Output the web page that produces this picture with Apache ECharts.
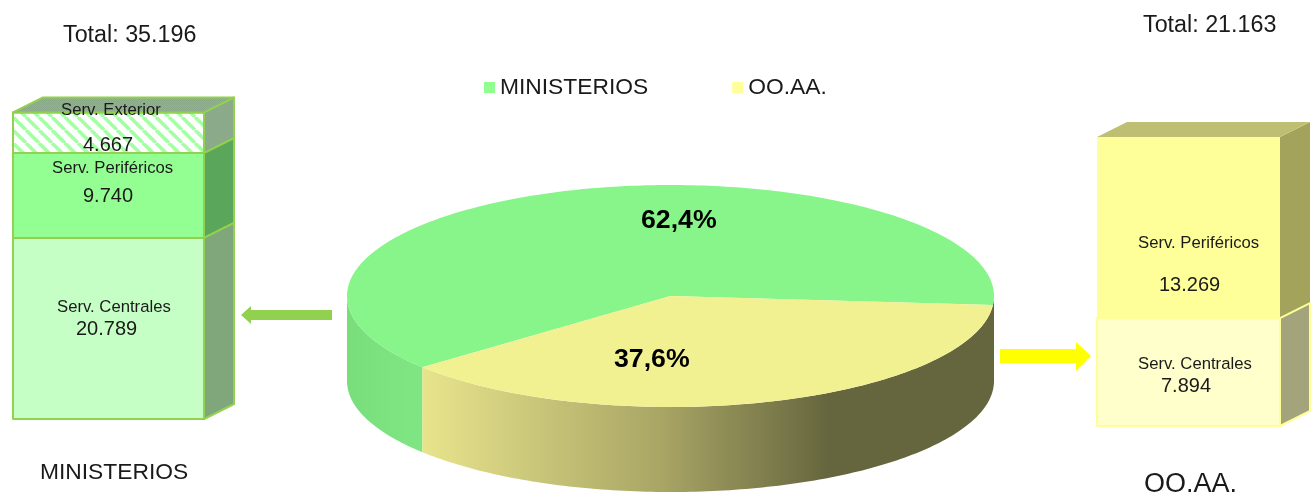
<!DOCTYPE html>
<html>
<head>
<meta charset="utf-8">
<style>
  html, body { margin: 0; padding: 0; background: #fff; }
  #main { width: 1316px; height: 494px; }
</style>
<script src="https://cdn.jsdelivr.net/npm/echarts@6/dist/echarts.min.js"></script>
</head>
<body>
<div id="main"></div>
<script>
// data
const groupNames = ['MINISTERIOS', 'OO.AA.'];
const ministeriosCategories = ['Serv. Centrales', 'Serv. Periféricos', 'Serv. Exterior'];
const ministeriosValues = [20789, 9740, 4667];
const ooaaCategories = ['Serv. Centrales', 'Serv. Periféricos'];
const ooaaValues = [7894, 13269];
const pieValues = [62.4, 37.6];

const sum = arr => arr.reduce((a, b) => a + b, 0);
const thousands = v => String(v).replace(/\B(?=(\d{3})+$)/g, '.');
const percent = v => v.toFixed(1).replace('.', ',') + '%';

const FONT = '"Liberation Sans", Arial, sans-serif';
const TEXT = '#1a1a1a';
const DEPTH_X = 30, DEPTH_Y = 15, PIE_DEPTH = 85;

// small repeating tiles for the hatched exterior block
function tile(size, draw) {
  const c = document.createElement('canvas');
  c.width = c.height = size;
  draw(c.getContext('2d'), size);
  return { image: c, repeat: 'repeat' };
}
const hatch = tile(13, (g, s) => {
  g.fillStyle = '#ffffff';
  g.fillRect(0, 0, s, s);
  g.strokeStyle = '#a2ffa2';
  g.lineWidth = 3.5;
  [-s, 0, s].forEach(o => {
    g.beginPath();
    g.moveTo(o, 0);
    g.lineTo(o + s, s);
    g.stroke();
  });
});
const stipple = (a, b) => tile(2, (g, s) => {
  g.fillStyle = a;
  g.fillRect(0, 0, s, s);
  g.fillStyle = b;
  g.fillRect(0, 0, 1, 1);
  g.fillRect(1, 1, 1, 1);
});

const leftStyles = [
  { front: '#c6ffc6', side: '#80a67c', stroke: '#92d050' },
  { front: '#93ff93', side: '#5aa65a', stroke: '#92d050' },
  { front: hatch, side: stipple('#a0a0a0', '#88a888'), top: stipple('#a5a5a5', '#88a888'), stroke: '#92d050' }
];
const rightStyles = [
  { front: '#ffffcc', side: '#a3a37c', stroke: '#ffff99' },
  { front: '#ffff99', side: '#a3a35c', top: '#bfbf73', stroke: null }
];

// one stacked block: front face, side face, and a top face on the last one
function blockItem(styles, values) {
  return function (params, api) {
    const i = api.value(0);
    const base = sum(values.slice(0, i));
    const lo = api.coord([0, base]);
    const hi = api.coord([0, base + values[i]]);
    const w = api.size([1, 0])[0];
    const x0 = lo[0] - w / 2, x1 = lo[0] + w / 2;
    const st = styles[i];
    const face = (points, fill) => ({
      type: 'polygon',
      z2: values.length - i,
      shape: { points: points },
      style: { fill: fill, stroke: st.stroke, lineWidth: st.stroke ? 2 : 0, lineJoin: 'round' }
    });
    const children = [
      face([[x1, lo[1]], [x1 + DEPTH_X, lo[1] - DEPTH_Y], [x1 + DEPTH_X, hi[1] - DEPTH_Y], [x1, hi[1]]], st.side),
      face([[x0, lo[1]], [x1, lo[1]], [x1, hi[1]], [x0, hi[1]]], st.front)
    ];
    if (i === values.length - 1) {
      children.push(face([[x0, hi[1]], [x1, hi[1]], [x1 + DEPTH_X, hi[1] - DEPTH_Y], [x0 + DEPTH_X, hi[1] - DEPTH_Y]], st.top));
    }
    return { type: 'group', children: children };
  };
}

// the yellow slice starts just below the right edge, angles go clockwise on screen
const PIE_START = 4.7;

function arc(api, from, to) {
  const pts = [];
  const steps = Math.max(2, Math.ceil(Math.abs(to - from)));
  for (let k = 0; k <= steps; k++) {
    const a = (from + (to - from) * k / steps) * Math.PI / 180;
    pts.push(api.coord([Math.cos(a), Math.sin(a)]));
  }
  return pts;
}

function wall(api, from, to, fill) {
  const topEdge = arc(api, from, to);
  const lowEdge = topEdge.map(p => [p[0], p[1] + PIE_DEPTH]).reverse();
  return { type: 'polygon', z2: 1, shape: { points: topEdge.concat(lowEdge) }, style: { fill: fill } };
}

function sliceItem(index) {
  return function (params, api) {
    const from = index === 0 ? PIE_START + pieValues[1] * 3.6 : PIE_START;
    const to = from + api.value(0) * 3.6;
    const center = api.coord([0, 0]);
    const children = [];
    if (index === 0) {
      children.push(wall(api, from, 180, {
        type: 'linear', x: 0, y: 0, x2: 1, y2: 0,
        colorStops: [{ offset: 0, color: '#79dd7c' }, { offset: 1, color: '#80e683' }]
      }));
    } else {
      children.push(wall(api, 0, to, {
        type: 'linear', x: 1, y: 0, x2: 0, y2: 0,
        colorStops: [
          { offset: 0, color: '#66663e' },
          { offset: 0.29, color: '#66663e' },
          { offset: 0.58, color: '#a8a565' },
          { offset: 1, color: '#e8e48c' }
        ]
      }));
    }
    children.push({
      type: 'polygon',
      z2: 2,
      shape: { points: [center].concat(arc(api, from, to)) },
      style: { fill: index === 0 ? '#88f58a' : '#f2f192' }
    });
    return { type: 'group', children: children };
  };
}

function label(text, left, midY, size, weight) {
  return {
    text: text,
    left: left,
    top: midY - size / 2 + 1,
    padding: 0,
    textStyle: {
      fontFamily: FONT,
      fontSize: size,
      fontWeight: weight || 'normal',
      color: weight ? '#000' : TEXT,
      lineHeight: size
    }
  };
}

const titleList = [
  label('Total: ' + thousands(sum(ministeriosValues)), 63, 35, 23.3),
  label('Total: ' + thousands(sum(ooaaValues)), 1143, 25, 23.3),
  label(groupNames[0], 40, 472, 22.8),
  label(groupNames[1], 1144, 484, 27),
  label(ministeriosCategories[2], 61, 109, 16.7),
  label(thousands(ministeriosValues[2]), 83, 144, 20),
  label(ministeriosCategories[1], 52, 167, 16.7),
  label(thousands(ministeriosValues[1]), 83, 195, 20),
  label(ministeriosCategories[0], 57, 306, 16.7),
  label(thousands(ministeriosValues[0]), 76, 328, 20),
  label(ooaaCategories[1], 1138, 242, 16.7),
  label(thousands(ooaaValues[1]), 1159, 284, 20),
  label(ooaaCategories[0], 1138, 363, 16.7),
  label(thousands(ooaaValues[0]), 1161, 385, 20),
  label(percent(pieValues[0]), 641, 220, 26.7, 'bold'),
  label(percent(pieValues[1]), 614, 359, 26.7, 'bold')
];

const hiddenAxis = extra => Object.assign({ show: false }, extra);

const option = {
  animation: false,
  backgroundColor: '#ffffff',
  title: titleList,
  legend: {
    left: 484,
    top: 76,
    padding: 0,
    itemWidth: 11,
    itemHeight: 11,
    itemGap: 84,
    selectedMode: false,
    textStyle: { fontFamily: FONT, fontSize: 22.8, color: TEXT },
    data: [
      { name: groupNames[0], icon: 'rect', itemStyle: { color: '#90ff90' } },
      { name: groupNames[1], icon: 'rect', itemStyle: { color: '#ffff99' } }
    ]
  },
  grid: [
    { left: 13, top: 112.4, width: 191, height: 306.6 },
    { left: 1097, top: 137, width: 183, height: 289 },
    { left: 347, top: 185, width: 647, height: 222 }
  ],
  xAxis: [
    hiddenAxis({ gridIndex: 0, type: 'category', data: [''] }),
    hiddenAxis({ gridIndex: 1, type: 'category', data: [''] }),
    hiddenAxis({ gridIndex: 2, type: 'value', min: -1, max: 1 })
  ],
  yAxis: [
    hiddenAxis({ gridIndex: 0, type: 'value', min: 0, max: sum(ministeriosValues) }),
    hiddenAxis({ gridIndex: 1, type: 'value', min: 0, max: sum(ooaaValues) }),
    hiddenAxis({ gridIndex: 2, type: 'value', min: -1, max: 1, inverse: true })
  ],
  series: [
    {
      name: 'pie-0',
      type: 'custom',
      xAxisIndex: 2,
      yAxisIndex: 2,
      renderItem: sliceItem(0),
      data: [[pieValues[0]]],
      silent: true,
      clip: false
    },
    {
      name: 'pie-1',
      type: 'custom',
      xAxisIndex: 2,
      yAxisIndex: 2,
      renderItem: sliceItem(1),
      data: [[pieValues[1]]],
      silent: true,
      clip: false
    },
    {
      name: groupNames[0],
      type: 'custom',
      xAxisIndex: 0,
      yAxisIndex: 0,
      renderItem: blockItem(leftStyles, ministeriosValues),
      data: ministeriosValues.map((v, i) => [i, v]),
      silent: true,
      clip: false
    },
    {
      name: groupNames[1],
      type: 'custom',
      xAxisIndex: 1,
      yAxisIndex: 1,
      renderItem: blockItem(rightStyles, ooaaValues),
      data: ooaaValues.map((v, i) => [i, v]),
      silent: true,
      clip: false
    }
  ],
  // the two arrows pointing from the pie to the blocks
  graphic: [
    {
      type: 'polygon',
      z: 1,
      shape: { points: [[241, 315], [251, 306], [251, 310], [332, 310], [332, 320], [251, 320], [251, 324]] },
      style: { fill: '#92d050' }
    },
    {
      type: 'polygon',
      z: 1,
      shape: { points: [[1000, 349], [1076, 349], [1076, 342], [1091, 356], [1076, 371], [1076, 363], [1000, 363]] },
      style: { fill: '#ffff00' }
    }
  ]
};

const chart = echarts.init(document.getElementById('main'));
chart.setOption(option);
</script>
</body>
</html>
